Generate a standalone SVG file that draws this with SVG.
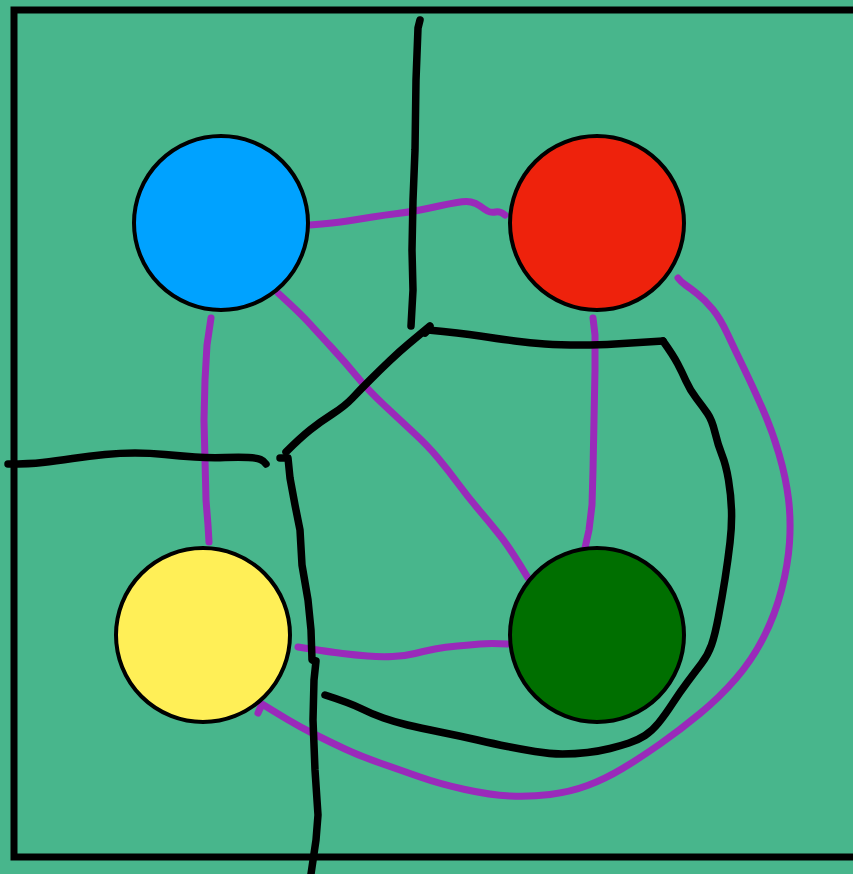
<svg xmlns="http://www.w3.org/2000/svg" width="853" height="874" viewBox="0 0 853 874">
<style>
.bg{fill:#48B68C}
.frame{fill:none;stroke:#000;stroke-width:7}
.node{stroke:#000;stroke-width:4}
.p{fill:none;stroke:#9A2ABA;stroke-width:7;stroke-linecap:round;stroke-linejoin:round}
.k{fill:none;stroke:#000;stroke-width:7.5;stroke-linecap:round;stroke-linejoin:round}
</style>
<rect class="bg" x="0" y="0" width="853" height="874"/>
<rect class="frame" x="14" y="10" width="860" height="847"/>
<g id="connectors">
<path class="p" d="M310,225 Q335,223 347.5,221 Q360,219 372.5,217 Q385,215 397.5,213.5 Q410,212 420,210 Q430,208 439,206 Q448,204 457,202.5 Q466,201 471,202 Q476,203 480,206 Q484,209 487.5,211 Q491,213 495.5,212 Q500,211 505,215"/>
<path class="p" d="M278,293 Q300,313 310,324 Q320,335 332.5,348.5 Q345,362 356.5,376 Q368,390 384,405 Q400,420 414,433 Q428,446 438,458 Q448,470 458,483.5 Q468,497 479,510 Q490,523 500,535.5 Q510,548 528,578"/>
<polyline class="p" points="211,318 207,345 205,380 204,420 205,460 206,500 208,525 209,542"/>
<polyline class="p" points="593,318 595,335 595,370 594,420 593,470 592,505 589,530 585,548"/>
<path class="p" d="M298,647 Q330,652 342.5,653.5 Q355,655 367.5,656 Q380,657 392.5,656.5 Q405,656 415,653.5 Q425,651 435,649 Q445,647 457.5,646 Q470,645 480,644 Q490,643 508,644"/>
<path class="p" d="M258,713 L262,704 L268.5,708 Q275,712 287.5,719.5 Q300,727 315,734.5 Q330,742 345,749 Q360,756 380,763 Q400,770 420,777 Q440,784 465,789.5 Q490,795 510,796 Q530,797 550,794.5 Q570,792 587.5,785.5 Q605,779 622.5,768.5 Q640,758 660,744 Q680,730 700,713.5 Q720,697 736,678.5 Q752,660 763.5,637.5 Q775,615 781.5,590 Q788,565 789.5,542.5 Q791,520 788.5,499 Q786,478 779,454 Q772,430 762,407.5 Q752,385 743.5,367.5 Q735,350 727.5,334 Q720,318 712.5,309 Q705,300 697.5,294 Q690,288 685.5,285 Q681,282 678,278"/>
<polyline class="k" points="420,20 418,28 416,80 415,150 413,200 412,250 413,290 411,326"/>
<path class="k" d="M286,452 Q300,438 310,430 Q320,422 332.5,414 Q345,406 352.5,398 Q360,390 370,380 Q380,370 390,360.5 Q400,351 409,343.5 Q418,336 430,326"/>
<path class="k" d="M425,333 L428,330 Q460,333 480,336 Q500,339 515,341 Q530,343 545,344 Q560,345 580,345 Q600,345 615,344 Q630,343 663,341"/>
<path class="k" d="M663,341 Q673,355 677.5,363.5 Q682,372 686,381 Q690,390 696.5,398.5 Q703,407 707.5,413.5 Q712,420 715,432.5 Q718,445 722,455 Q726,465 728.5,480 Q731,495 731.5,510 Q732,525 730,542.5 Q728,560 725,579 Q722,598 718.5,616.5 Q715,635 711.5,645 Q708,655 701.5,663.5 Q695,672 687.5,682 Q680,692 672.5,703.5 Q665,715 658.5,723 Q652,731 645,735.5 Q638,740 629,743 Q620,746 610,748.5 Q600,751 587.5,752.5 Q575,754 562.5,754 Q550,754 535,751.5 Q520,749 507.5,746.5 Q495,744 477.5,740 Q460,736 440,732 Q420,728 407.5,725 Q395,722 383.5,718 Q372,714 361,708.5 Q350,703 325,695"/>
<path class="k" d="M8,464 Q30,464 42.5,462.5 Q55,461 72.5,458.5 Q90,456 105,454.5 Q120,453 135,453 Q150,453 165,454.5 Q180,456 195,457 Q210,458 225,457.5 Q240,457 248.5,457.5 Q257,458 260.5,459.5 Q264,461 266,464"/>
<polyline class="k" points="280,458 288,458 290,478 295,505 300,530 302,565 308,600 311,630 312,660 316,661 314,680 313,720 315,770 318,815 316,840 311,874"/>
</g>
<g id="node-blue"><circle class="node" cx="221" cy="223" r="87" fill="#00A2FF"/></g>
<g id="node-red"><circle class="node" cx="597" cy="223" r="87" fill="#EE220C"/></g>
<g id="node-yellow"><circle class="node" cx="203" cy="635" r="87" fill="#FFEF57"/></g>
<g id="node-green"><circle class="node" cx="597" cy="635" r="87" fill="#006F00"/></g>
</svg>
